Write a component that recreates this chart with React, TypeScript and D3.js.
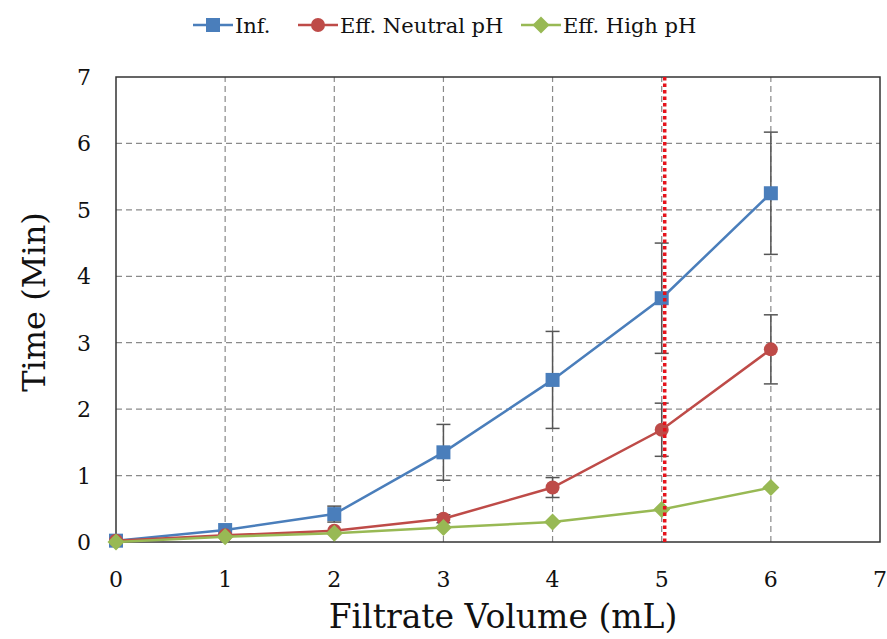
import * as d3 from "d3";

const volumes = [0, 1, 2, 3, 4, 5, 6];
const infMean = [0.02, 0.18, 0.42, 1.35, 2.44, 3.67, 5.25];
const infErr = [0, 0.03, 0.12, 0.42, 0.73, 0.83, 0.92];
const neutralMean = [0.02, 0.1, 0.17, 0.35, 0.82, 1.69, 2.9];
const neutralErr = [0, 0.02, 0.04, 0.06, 0.15, 0.4, 0.52];
const highMean = [0, 0.08, 0.13, 0.22, 0.3, 0.49, 0.82];
const highErr = [0, 0, 0, 0, 0, 0, 0];
const xTicks = [0, 1, 2, 3, 4, 5, 6, 7];
const yTicks = [0, 1, 2, 3, 4, 5, 6, 7];
const cutoffVolume = 5;

const series = [
  { name: "Inf.", mean: infMean, err: infErr, color: "#4a7ebb", shape: "square" },
  { name: "Eff. Neutral pH", mean: neutralMean, err: neutralErr, color: "#be4b48", shape: "circle" },
  { name: "Eff. High pH", mean: highMean, err: highErr, color: "#98b954", shape: "diamond" },
];

const W = 887;
const H = 639;
const margin = { top: 77, right: 7, bottom: 97, left: 116 };
const serif = "'DejaVu Serif', 'Liberation Serif', serif";

function Marker({ shape, x, y, color }: { shape: string; x: number; y: number; color: string }) {
  if (shape === "square") return <rect x={x - 7} y={y - 7} width={14} height={14} fill={color} />;
  if (shape === "circle") return <circle cx={x} cy={y} r={7} fill={color} />;
  return <path d={`M${x},${y - 8.5}L${x + 8.5},${y}L${x},${y + 8.5}L${x - 8.5},${y}Z`} fill={color} />;
}

export default function App() {
  const x = d3.scaleLinear().domain([0, 7]).range([margin.left, W - margin.right]);
  const y = d3.scaleLinear().domain([0, 7]).range([H - margin.bottom, margin.top]);
  const line = d3
    .line<number>()
    .x((_, i) => x(volumes[i]))
    .y((d) => y(d));

  const legendX = [193, 298, 521];

  return (
    <svg width={W} height={H} style={{ position: "absolute", left: 0, top: 0, background: "#fff" }}>
      {/* grid */}
      {yTicks.slice(1, -1).map((t) => (
        <line key={"gy" + t} x1={x(0)} x2={x(7)} y1={y(t)} y2={y(t)} stroke="#8a8a8a" strokeWidth={1.2} strokeDasharray="6,4" />
      ))}
      {xTicks.slice(1, -1).map((t) => (
        <line key={"gx" + t} x1={x(t)} x2={x(t)} y1={y(0)} y2={y(7)} stroke="#8a8a8a" strokeWidth={1.2} strokeDasharray="6,4" />
      ))}
      <rect x={x(0)} y={y(7)} width={x(7) - x(0)} height={y(0) - y(7)} fill="none" stroke="#333" strokeWidth={1.5} />

      {/* tick labels */}
      {xTicks.map((t) => (
        <text key={"xt" + t} x={x(t)} y={587} textAnchor="middle" fontFamily={serif} fontSize={22} fill="#111">
          {t}
        </text>
      ))}
      {yTicks.map((t) => (
        <text key={"yt" + t} x={91} y={y(t) + 8} textAnchor="end" fontFamily={serif} fontSize={22} fill="#111">
          {t}
        </text>
      ))}

      {/* axis titles */}
      <text x={503} y={628} textAnchor="middle" fontFamily={serif} fontSize={33} fill="#111">
        Filtrate Volume (mL)
      </text>
      <text transform={`translate(45,302) rotate(-90)`} textAnchor="middle" fontFamily={serif} fontSize={32} fill="#111">
        Time (Min)
      </text>

      {/* series */}
      {series.map((s) => (
        <g key={s.name}>
          {s.mean.map((m, i) =>
            s.err[i] > 0.05 ? (
              <g key={i} stroke="#555" strokeWidth={1.5}>
                <line x1={x(volumes[i])} x2={x(volumes[i])} y1={y(m + s.err[i])} y2={y(m - s.err[i])} />
                <line x1={x(volumes[i]) - 7} x2={x(volumes[i]) + 7} y1={y(m + s.err[i])} y2={y(m + s.err[i])} />
                <line x1={x(volumes[i]) - 7} x2={x(volumes[i]) + 7} y1={y(m - s.err[i])} y2={y(m - s.err[i])} />
              </g>
            ) : null
          )}
          <path d={line(s.mean) || ""} fill="none" stroke={s.color} strokeWidth={2.5} />
          {s.mean.map((m, i) => (
            <Marker key={i} shape={s.shape} x={x(volumes[i])} y={y(m)} color={s.color} />
          ))}
        </g>
      ))}

      {/* cutoff line */}
      <line x1={x(cutoffVolume) + 3} x2={x(cutoffVolume) + 3} y1={y(7)} y2={y(0)} stroke="#e5131b" strokeWidth={3.5} strokeDasharray="3.5,3" />

      {/* legend */}
      {series.map((s, i) => (
        <g key={"lg" + s.name}>
          <line x1={legendX[i]} x2={legendX[i] + 40} y1={25} y2={25} stroke={s.color} strokeWidth={2.5} />
          <Marker shape={s.shape} x={legendX[i] + 20} y={25} color={s.color} />
          <text x={legendX[i] + 42} y={33} fontFamily={serif} fontSize={21} fill="#111">
            {s.name}
          </text>
        </g>
      ))}
    </svg>
  );
}
